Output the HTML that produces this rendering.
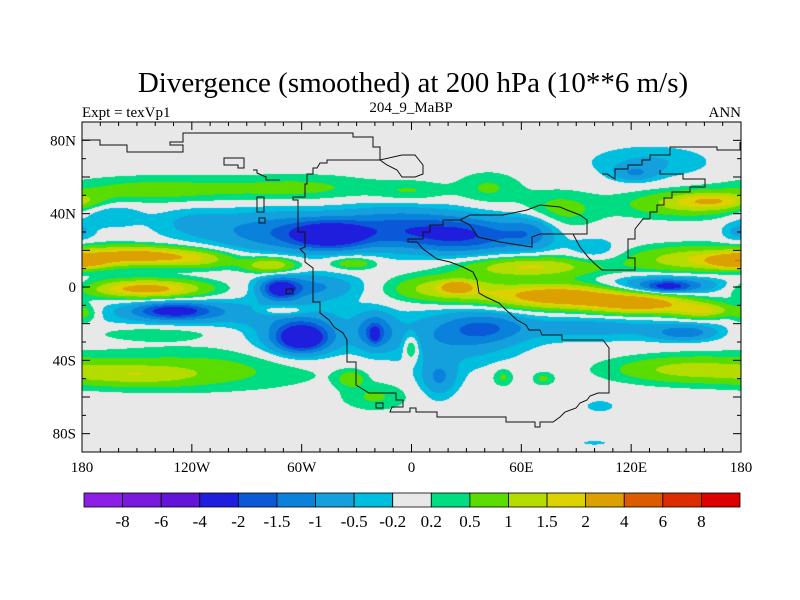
<!DOCTYPE html>
<html><head><meta charset="utf-8">
<style>
body{margin:0;background:#fff;width:800px;height:600px;overflow:hidden;position:relative;font-family:"Liberation Serif",serif}
canvas,svg{position:absolute;left:0;top:0}
</style></head>
<body>
<canvas id="map" width="800" height="600"></canvas>
<svg id="ov" width="800" height="600"></svg>
<script>
// ---- data: smoothed divergence field as gaussian features (lon, lat, amplitude, sigmaLon, sigmaLat)
const blobLon = [-75,-45,-10,30,65,-120,-165,130,122,178,100,
  -150,-115,-77,-32,65,155,178,
  -145,-72,-55,-130,-120,-60,-60,-20,-20,20,40,0,100,150,15,15,140,140,
  80,125,160,20,25,-70,
  -150,-120,-20,-33,150,50,72,103,100,-178,-140,
  -140,-60,0,42,80,150,165];
const blobLat = [30,28,32,28,30,35,40,68,62,30,20,
  17,15,12,13,11,15,14,
  -1,-1,0,-13,-14,-28,-25,-24,-26,-28,-22,-33,-22,-25,-48,-52,1,0,
  -5,-9,-13,-1,0,-13,
  -48,-45,-60,-50,-45,-49,-50,-65,-85,-15,-25,
  53,54,52,54,42,45,47];
const blobAmp = [-1.3,-2.4,-1.5,-1.8,-1.0,-0.5,-0.6,-0.55,-0.8,-0.6,-0.5,
  2.5,1.0,1.6,0.9,1.6,1.4,2.5,
  2.4,-2.2,-1.1,-1.8,-0.85,-2.4,-1.2,-1.4,-1.2,-0.9,-1.0,1.0,-0.7,-1.2,-0.6,-0.5,-1.5,-1.2,
  2.8,2.5,1.5,1.5,2.2,0.8,
  0.9,0.65,0.55,0.8,1.1,0.6,0.6,-0.5,-0.4,0.6,0.4,
  0.7,0.6,0.5,0.55,0.7,1.0,1.3];
const blobSLon = [25,14,25,22,10,15,12,22,8,6,10,
  22,15,10,9,25,25,10,
  22,7,18,14,35,9,18,7,2,25,15,3,35,12,8,6,22,8,
  25,20,12,20,5,10,
  25,50,12,5,28,4,4,5,5,5,25,
  35,30,14,12,15,25,15];
const blobSLat = [8,5,8,7,7,6,5,6,3,4,5,
  3.5,3.5,3,2.5,4,5,2.5,
  3.5,4,5,3,5,5,9,7,3,10,6,5,5,3,6,7,3.5,2,
  4.5,4,3,5,2,2,
  4,8,5,3,5,3.5,2.5,2,0.8,4,3,
  5,5,4,6,7,5,3];
const levels = [-8,-6,-4,-2,-1.5,-1,-0.5,-0.2,0.2,0.5,1,1.5,2,4,6,8];
const levelLabels = ["-8","-6","-4","-2","-1.5","-1","-0.5","-0.2","0.2","0.5","1","1.5","2","4","6","8"];
const colors = ["#8c1ee6","#7a18de","#6414d8","#1e1edc","#0a5ad8","#0a82dc","#14a0dc","#00bede","#e8e8e8",
  "#00dc82","#5adc00","#b4dc00","#dcd200","#dca000","#dc5a00","#dc2d00","#dc0000"];
const lonTickVals = [-180,-120,-60,0,60,120,180];
const lonTickLabels = ["180","120W","60W","0","60E","120E","180"];
const latTickVals = [80,40,0,-40,-80];
const latTickLabels = ["80N","40N","0","40S","80S"];

const X0=82, X1=741, Y0=122, Y1=452;
const xs = lon => X0 + (lon+180)/360*(X1-X0);
const ys = lat => Y0 + (90-lat)/180*(Y1-Y0);
const NS="http://www.w3.org/2000/svg";

function field(lon,lat){
  let v=0;
  for(let i=0;i<blobLon.length;i++){
    let d=lon-blobLon[i]; if(d>180)d-=360; if(d<-180)d+=360;
    const a=d/blobSLon[i], b=(lat-blobLat[i])/blobSLat[i];
    const e=a*a+b*b; if(e<30) v+=blobAmp[i]*Math.exp(-e/2);
  }
  return v;
}
function colIdx(v){let k=0;while(k<levels.length&&v>=levels[k])k++;return k;}
function hex(c){return [parseInt(c.substr(1,2),16),parseInt(c.substr(3,2),16),parseInt(c.substr(5,2),16)];}
const rgb = colors.map(hex);

const ctx=document.getElementById('map').getContext('2d');
const W=X1-X0, H=Y1-Y0;
const img=ctx.createImageData(W,H);
for(let py=0;py<H;py++){
  const lat=90-(py+0.5)/H*180;
  for(let px=0;px<W;px++){
    const lon=-180+(px+0.5)/W*360;
    const c=rgb[colIdx(field(lon,lat))];
    const o=(py*W+px)*4; img.data[o]=c[0];img.data[o+1]=c[1];img.data[o+2]=c[2];img.data[o+3]=255;
  }
}
ctx.putImageData(img,X0,Y0);

const svg=document.getElementById('ov');
function mk(tag,attrs,parent){const e=document.createElementNS(NS,tag);for(const k in attrs)e.setAttribute(k,attrs[k]);(parent||svg).appendChild(e);return e;}

const coastPaths=[
 "M82,140 L100,140 L100,145 L127,145 L127,152 L183,152 L183,145 L170,145 L170,142 L183,142 L183,133 L353,133 L353,137 L373,137 L373,147 L380,147 L380,160 L327,160 L327,163 L320,163 L317,168 L313,168 L313,174 L307,174 L307,184 L305,184 L305,197 L293,197 L293,200 L298,200 L298,232 L305,232 L305,247 L300,249 L305,254 L305,262 L313,268 L313,302 L320,302 L320,313 L329,320 L334,327 L343,333 L347,340 L347,362 L356,362 L356,385 L369,393 L396,393 L396,400 L403,400 L403,407 L392,407 L390,412 L410,412 L410,408 L416,408 L416,412 L437,412 L437,417 L506,417 L506,422 L535,422 L535,427 L540,427 L540,422 L553,422 L560,417 L565,412 L576,408 L580,403 L587,400 L590,396 L598,393 L609,393 L609,348 L603,340 L562,340 L562,335 L542,335 L540,330 L529,330 L526,325 L517,320 L506,310 L499,303 L486,297 L479,293 L477,280 L473,272 L463,267 L450,262 L437,259 L423,249 L417,242 L408,242 L408,239 L423,239 L423,232 L430,232 L430,225 L443,225 L443,220 L460,220 L470,215 L503,215 L527,210 L540,205 L560,207 L567,210 L580,215 L587,220 L587,234 L573,234 L580,247 L588,257 L595,264 L602,270 L635,270 L635,258 L628,258 L628,239 L635,239 L635,229 L643,219 L650,219 L650,212 L657,212 L657,205 L664,205 L664,198 L672,198 L672,192 L690,192 L690,187 L705,187 L705,179 L683,179 L683,174 L660,174 L660,170",
 "M460,220 L470,225 L478,237 L500,242 L532,247 L532,237 L540,234 L573,234",
 "M602,174 L607,174 L615,179 L615,169 L628,169 L628,165 L642,165 L642,160 L650,160 L650,155 L670,155 L670,147 L717,147 L717,150 L740,150 L740,142",
 "M380,160 L387,165 L397,170 L402,177 L415,177 L423,174 L423,165 L415,155 L402,155 Z",
 "M224,158 L244,158 L244,168 L238,168 L238,165 L224,165 Z",
 "M253,170 L257,170 L257,173 L266,177 L266,180 L280,180",
 "M257,197 L264,197 L264,212 L257,212 Z",
 "M259,218 L265,218 L265,223 L259,223 Z",
 "M286,289 L293,289 L293,294 L286,294 Z",
 "M376,403 L383,403 L383,408 L376,408 Z"
];
coastPaths.forEach(d=>{const p=mk('path',{d:d,fill:'none',stroke:'#111','stroke-width':'1'});});

const fr=mk('rect',{x:X0,y:Y0,width:X1-X0,height:Y1-Y0,fill:'none',stroke:'#000','stroke-width':'1'});

for(let lon=-180;lon<=180;lon+=10){
  const x=xs(lon), L=(lon%60===0)?8:4;
  mk('line',{x1:x,y1:Y1,x2:x,y2:Y1-L,stroke:'#000'});
  mk('line',{x1:x,y1:Y0,x2:x,y2:Y0+L,stroke:'#000'});
}
for(let lat=-90;lat<=90;lat+=10){
  const y=ys(lat), L=(lat%20===0)?8:4;
  mk('line',{x1:X0,y1:y,x2:X0+L,y2:y,stroke:'#000'});
  mk('line',{x1:X1,y1:y,x2:X1-L,y2:y,stroke:'#000'});
}
lonTickVals.forEach((v,i)=>{const t=mk('text',{x:xs(v),y:472,'text-anchor':'middle','font-size':'15','font-family':'Liberation Serif, serif'});t.textContent=lonTickLabels[i];
});
latTickVals.forEach((v,i)=>{const t=mk('text',{x:76,y:ys(v)+5,'text-anchor':'end','font-size':'15','font-family':'Liberation Serif, serif'});t.textContent=latTickLabels[i];
});

const tt=mk('text',{x:413,y:92,'text-anchor':'middle','font-size':'29','font-family':'Liberation Serif, serif'});tt.textContent='Divergence (smoothed) at 200 hPa (10**6 m/s)';

const s1=mk('text',{x:82,y:117,'font-size':'15','font-family':'Liberation Serif, serif'});s1.textContent='Expt = texVp1';

const s2=mk('text',{x:411,y:112,'text-anchor':'middle','font-size':'15','font-family':'Liberation Serif, serif'});s2.textContent='204_9_MaBP';

const s3=mk('text',{x:741,y:117,'text-anchor':'end','font-size':'15','font-family':'Liberation Serif, serif'});s3.textContent='ANN';


const CB0=84, CB1=740, CBY=493, CBH=14, bw=(CB1-CB0)/colors.length;
colors.forEach((c,i)=>{const r=mk('rect',{x:CB0+i*bw,y:CBY,width:bw,height:CBH,fill:c,stroke:'#000','stroke-width':'0.8'});
});
levelLabels.forEach((l,i)=>{const t=mk('text',{x:CB0+(i+1)*bw,y:527,'text-anchor':'middle','font-size':'17','font-family':'Liberation Serif, serif'});t.textContent=l;
});
</script>
</body></html>
